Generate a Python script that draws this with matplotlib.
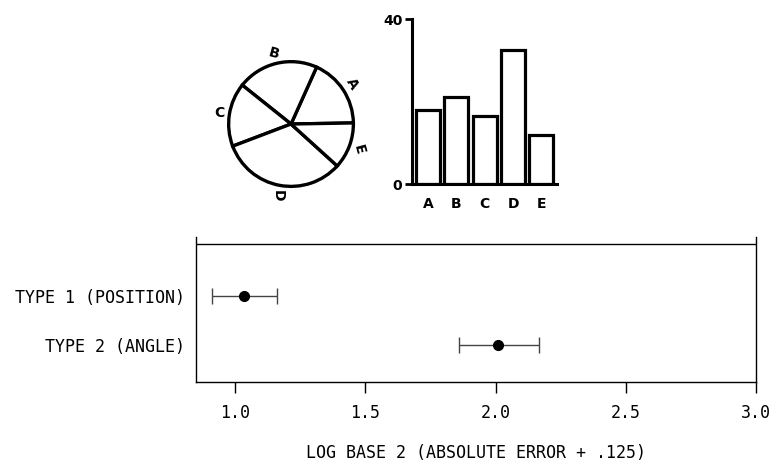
import matplotlib
matplotlib.use("Agg")
import matplotlib.pyplot as plt

# data
letters = ["A", "B", "C", "D", "E"]
shares = [18, 21, 16.5, 32.5, 12]
pie_label_rot = [-60, -15, 0, -90, -75]

types = ["TYPE 2 (ANGLE)", "TYPE 1 (POSITION)"]
means = [2.01, 1.035]
lo = [1.858, 0.91]
hi = [2.165, 1.16]
xticks = [1.0, 1.5, 2.0, 2.5, 3.0]
xticklabels = ["1.0", "1.5", "2.0", "2.5", "3.0"]

mono = "DejaVu Sans Mono"
heavy = dict(fontsize=10, fontweight="bold", family="DejaVu Sans")

fig = plt.figure(figsize=(7.75, 4.62), dpi=100)

# ---- pie chart ----
axp = fig.add_axes([0.2942, 0.5952, 0.1626, 0.2727])
wedges, texts = axp.pie(shares, startangle=1, counterclock=True,
                        colors=["white"] * 5,
                        wedgeprops=dict(edgecolor="black", linewidth=2.4),
                        labels=letters, labeldistance=1.17,
                        textprops=heavy)
for t, r in zip(texts, pie_label_rot):
    t.set_rotation(r)
    t.set_ha("center")
    t.set_va("center")
    t.set_clip_on(False)
for w in wedges:
    w.set_clip_on(False)
axp.set_xlim(-1.01, 1.01)
axp.set_ylim(-1.01, 1.01)
axp.set_aspect("equal")

# ---- bar chart ----
axb = fig.add_axes([0.5316, 0.6017, 0.1871, 0.357])
xs = list(range(len(letters)))
axb.bar(xs, shares, width=0.84, color="white", edgecolor="black", linewidth=2.3)
axb.set_xlim(-0.56, 4.55)
axb.set_ylim(0, 40)
axb.set_yticks([0, 40])
axb.set_yticklabels(["0", "40"], **heavy)
axb.set_xticks(xs)
axb.set_xticklabels(letters, **heavy)
axb.tick_params(axis="x", length=0, pad=9)
axb.tick_params(axis="y", length=5, width=2, pad=2)
for s in ["top", "right"]:
    axb.spines[s].set_visible(False)
axb.spines["left"].set_linewidth(2.2)
axb.spines["bottom"].set_linewidth(2.2)

# ---- dot plot with error bars ----
ax = fig.add_axes([0.2529, 0.1732, 0.7226, 0.3139])
ys = [1, 2]
xerr = [[m - l for m, l in zip(means, lo)], [h - m for m, h in zip(means, hi)]]
ax.errorbar(means, ys, xerr=xerr, fmt="o", color="black", markersize=7,
            ecolor="#444444", elinewidth=1.0, capsize=6, capthick=1.0)
ax.set_xlim(0.85, 3.0)
ax.set_ylim(0.245, 3.2)
ax.axhline(3.06, color="black", linewidth=1.0)
ax.spines["top"].set_visible(False)
for s in ["left", "right", "bottom"]:
    ax.spines[s].set_linewidth(1.0)
ax.set_yticks(ys)
ax.set_yticklabels(types, fontsize=12, family=mono)
ax.tick_params(axis="y", length=0, pad=8)
ax.set_xticks(xticks)
ax.set_xticklabels(xticklabels, fontsize=12, family=mono)
ax.tick_params(axis="x", length=8, width=1.0, pad=8)
ax.set_xlabel("LOG BASE 2 (ABSOLUTE ERROR + .125)", fontsize=12, family=mono,
              labelpad=16)

fig.savefig("out.png", dpi=100)
